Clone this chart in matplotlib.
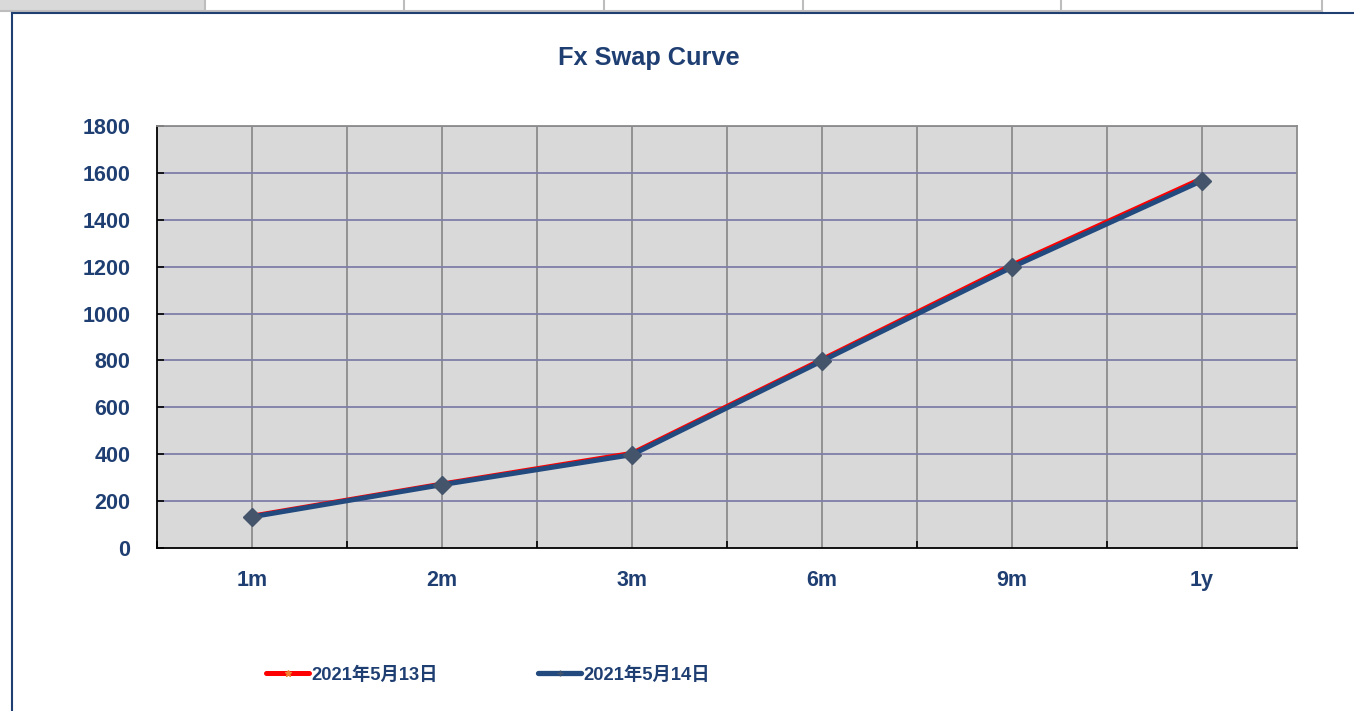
import matplotlib.pyplot as plt
from matplotlib.lines import Line2D
from matplotlib.patches import Rectangle

tenors = ['1m', '2m', '3m', '6m', '9m', '1y']
swap_0513 = [137, 274, 405, 805, 1208, 1577]
swap_0514 = [133, 270, 398, 798, 1198, 1567]
labels = ['2021年5月13日', '2021年5月14日']
y_ticks = [0, 200, 400, 600, 800, 1000, 1200, 1400, 1600, 1800]

navy = '#1F3F73'
W, H = 1354, 711

fig = plt.figure(figsize=(W / 100, H / 100), dpi=100)

# spreadsheet header strip + chart border
fig.patches.append(Rectangle((0, 1 - 11 / H), 205 / W, 11 / H, transform=fig.transFigure,
                             facecolor='#D9D9D9', edgecolor='none'))
for cx in [205, 404, 604, 803, 1061, 1322]:
    fig.lines.append(Line2D([cx / W, cx / W], [1 - 11 / H, 1], transform=fig.transFigure,
                            color='#BDBDBD', lw=1.5))
fig.lines.append(Line2D([0, 1322 / W], [1 - 11 / H, 1 - 11 / H], transform=fig.transFigure,
                        color='#BDBDBD', lw=1.5))
fig.lines.append(Line2D([12 / W, 1], [1 - 13 / H, 1 - 13 / H], transform=fig.transFigure,
                        color=navy, lw=1.5))
fig.lines.append(Line2D([12 / W, 12 / W], [0, 1 - 13 / H], transform=fig.transFigure,
                        color=navy, lw=1.5))

ax = fig.add_axes([157 / W, 1 - 548 / H, (1297 - 157) / W, (548 - 126) / H])
ax.set_facecolor('#D9D9D9')

x = list(range(len(tenors)))
ax.plot(x, swap_0513, color='#FF0000', lw=3.2, marker='*', markersize=5,
        markerfacecolor='#F08030', markeredgecolor='#F08030', label=labels[0], zorder=3,
        solid_capstyle='round')
ax.plot(x, swap_0514, color='#234A7E', lw=3.6, label=labels[1], zorder=4,
        solid_capstyle='round')
ax.plot(x, swap_0514, ls='none', marker='D', markersize=9.5, color='#44546A', zorder=5)

ax.set_xlim(-0.5, len(tenors) - 0.5)
ax.set_ylim(0, 1800)
ax.set_yticks(y_ticks)
ax.set_xticks([i - 0.5 for i in range(len(tenors) + 1)])
ax.set_xticklabels([])
ax.set_xticks(x, minor=True)
ax.set_xticklabels(tenors, minor=True)

for v in [i * 0.5 - 0.5 for i in range(1, 2 * len(tenors))]:
    ax.axvline(v, color='#8C8C8C', lw=1.3, zorder=1)
for v in y_ticks[1:]:
    ax.axhline(v, color='#7F7FAA', lw=1.3, zorder=1)

ax.tick_params(axis='y', direction='in', length=5, width=1.2, pad=19,
               labelsize=15.5, labelcolor=navy)
ax.tick_params(axis='x', which='major', direction='in', length=5, width=1.2)
ax.tick_params(axis='x', which='minor', length=0, pad=16, labelsize=15.5, labelcolor=navy)
for t in ax.get_yticklabels() + ax.get_xticklabels(minor=True):
    t.set_fontweight('bold')
    t.set_family('Liberation Sans')

for s in ['top', 'right']:
    ax.spines[s].set_color('#8C8C8C')
    ax.spines[s].set_linewidth(1.3)
for s in ['left', 'bottom']:
    ax.spines[s].set_color('black')
    ax.spines[s].set_linewidth(1.3)

fig.text(649 / W, 1 - 58 / H, 'Fx Swap Curve', ha='center', va='center',
         fontsize=18.3, fontweight='bold', color=navy, family='Liberation Sans')

handles = [Line2D([], [], color='#FF0000', lw=3.6, marker='*', markersize=5,
                  markerfacecolor='#F08030', markeredgecolor='#F08030', solid_capstyle='round'),
           Line2D([], [], color='#234A7E', lw=3.8, marker='+', markersize=5,
                  markeredgecolor='#44546A', solid_capstyle='round')]
leg = fig.legend(handles, labels, loc='center left', bbox_to_anchor=(266 / W, 1 - 675 / H),
                 ncol=2, frameon=False, borderpad=0, borderaxespad=0,
                 handlelength=2.35, handletextpad=0.1, columnspacing=5.5,
                 prop={'family': ['Liberation Sans', 'Noto Sans CJK SC'],
                       'weight': 'bold', 'size': 13.2})
for t in leg.get_texts():
    t.set_color(navy)

fig.savefig('out.png', dpi=100)
